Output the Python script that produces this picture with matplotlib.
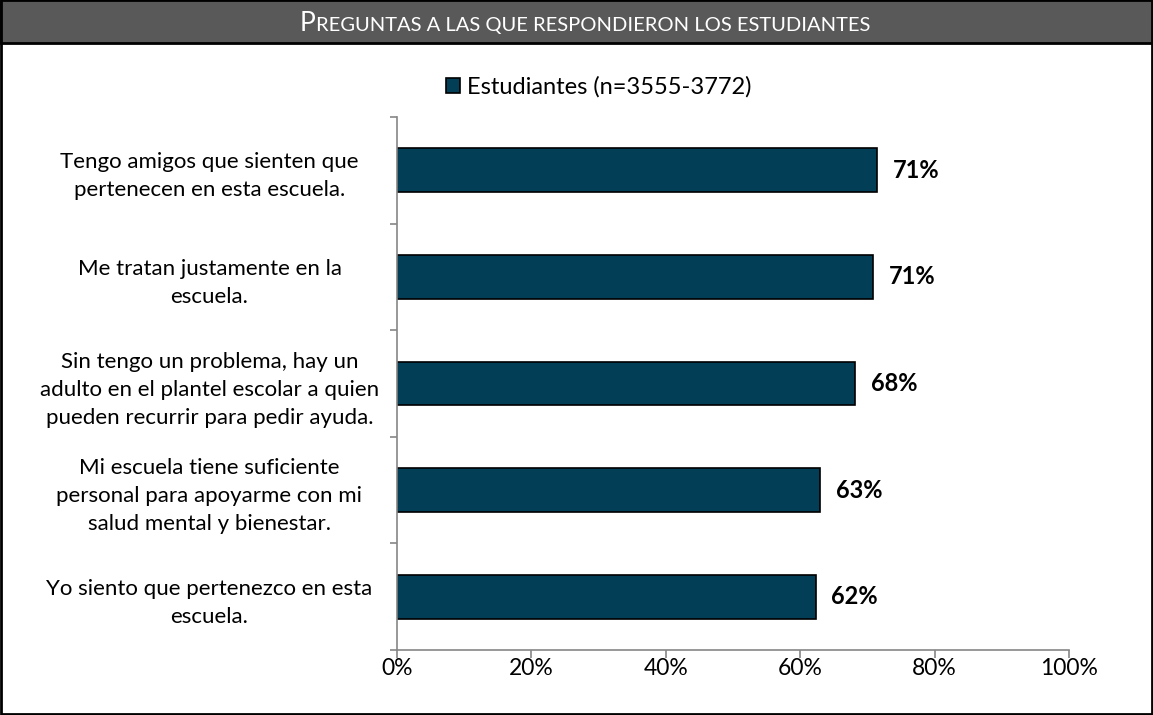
import matplotlib.pyplot as plt
from matplotlib.patches import Rectangle

# datos del grafico
categorias = ['Tengo amigos que sienten que\npertenecen en esta escuela.',
              'Me tratan justamente en la\nescuela.',
              'Sin tengo un problema, hay un\nadulto en el plantel escolar a quien\npueden recurrir para pedir ayuda.',
              'Mi escuela tiene suficiente\npersonal para apoyarme con mi\nsalud mental y bienestar.',
              'Yo siento que pertenezco en esta\nescuela.']
valores = [71.5, 70.9, 68.2, 63.0, 62.3]
etiquetas = ['71%', '71%', '68%', '63%', '62%']
ticks_x = [0, 20, 40, 60, 80, 100]
serie = 'Estudiantes (n=3555-3772)'

plt.rcParams['font.family'] = ['Lato', 'DejaVu Sans']
color_barra = '#023f57'
gris = '#868686'

fig = plt.figure(figsize=(11.53, 7.15), dpi=100)
ax = fig.add_axes([397 / 1153, 1 - 650 / 715, 672 / 1153, 533 / 715])

pos = list(range(len(categorias)))
barras = ax.barh(pos, valores, height=0.41, color=color_barra,
                 edgecolor='black', linewidth=1.2, label=serie)
ax.bar_label(barras, labels=etiquetas, padding=11, fontsize=17,
             fontweight='bold')

ax.set_xlim(0, 100)
ax.set_ylim(len(categorias) - 0.5, -0.5)
ax.set_xticks(ticks_x)
ax.set_xticklabels([f'{t}%' for t in ticks_x], fontsize=16.5)
ax.set_yticks(pos)
ax.set_yticklabels(categorias, fontsize=16, ha='center', linespacing=1.5)
ax.tick_params(axis='y', length=0, pad=135)
ax.set_yticks([p - 0.5 for p in pos] + [len(pos) - 0.5], minor=True)
ax.tick_params(axis='y', which='minor', length=5, color=gris, width=1.2)
ax.tick_params(axis='x', length=6, color=gris, width=1.2, pad=0)
for s in ['top', 'right']:
    ax.spines[s].set_visible(False)
for s in ['left', 'bottom']:
    ax.spines[s].set_color(gris)
    ax.spines[s].set_linewidth(1.2)

ax.legend(loc='center', bbox_to_anchor=(599 / 1153, 1 - 87 / 715),
          bbox_transform=fig.transFigure, frameon=False, fontsize=17,
          handlelength=0.6, handleheight=0.6, handletextpad=0.3)

# marco y barra de titulo
fig.patches.append(Rectangle((0.001, 0.002), 0.998, 0.996, transform=fig.transFigure,
                             fill=False, edgecolor='black', linewidth=2))
fig.patches.append(Rectangle((0.001, 1 - 43 / 715), 0.998, 43 / 715, transform=fig.transFigure,
                             facecolor='#595959', edgecolor='black', linewidth=2))

# titulo en versalitas: primera letra grande, resto pequeno
y_tit = 1 - 31 / 715
t1 = fig.text(0, y_tit, 'P', fontsize=19, color='white', va='baseline')
t2 = fig.text(0, y_tit, 'REGUNTAS A LAS QUE RESPONDIERON LOS ESTUDIANTES',
              fontsize=14.5, color='white', va='baseline')
fig.draw_without_rendering()
r = fig.canvas.get_renderer()
w1 = t1.get_window_extent(r).width
w2 = t2.get_window_extent(r).width
x0 = 585 - (w1 + w2) / 2
t1.set_x(x0 / fig.bbox.width)
t2.set_x((x0 + w1) / fig.bbox.width)

fig.savefig('out.png', dpi=100)
